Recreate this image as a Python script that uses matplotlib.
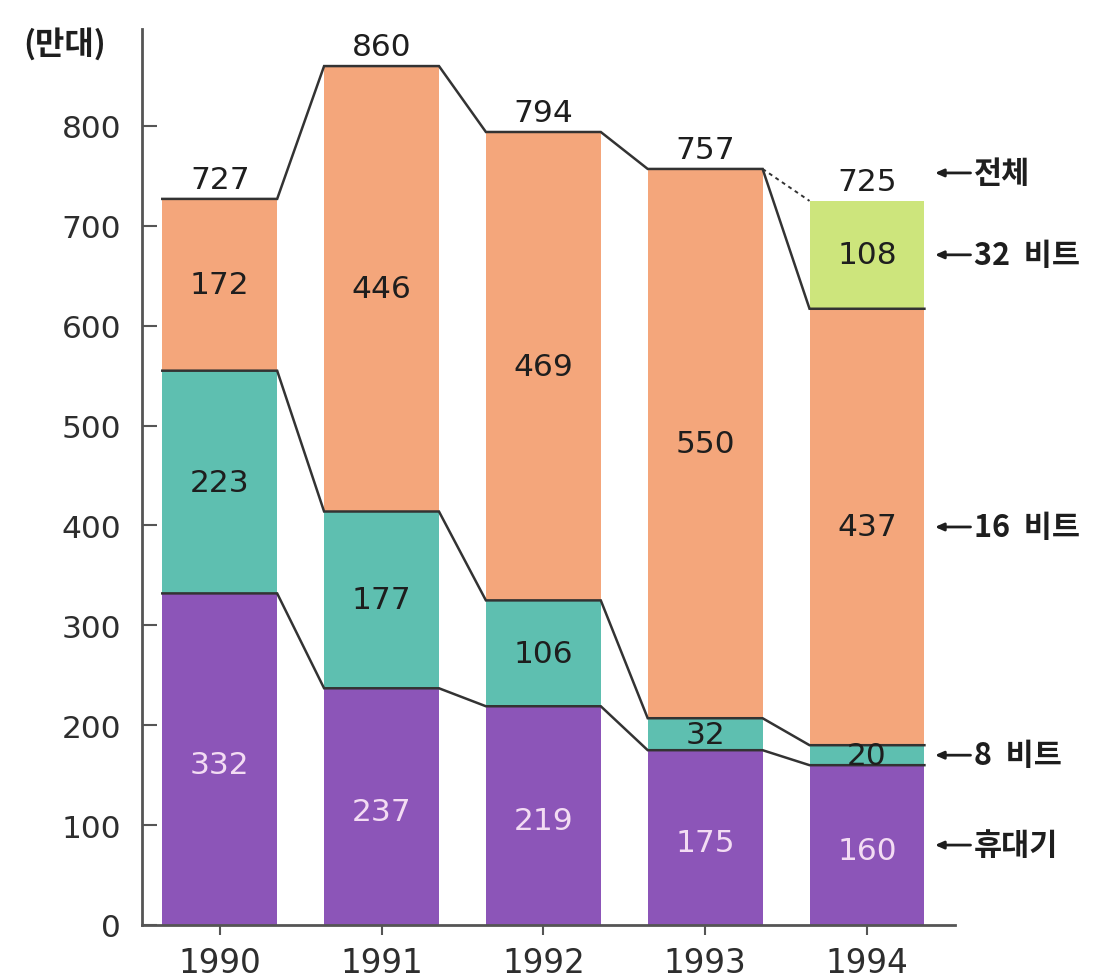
import matplotlib
matplotlib.use('Agg')
import matplotlib.pyplot as plt
import numpy as np

# data (단위: 만대)
years = ['1990', '1991', '1992', '1993', '1994']
portable = [332, 237, 219, 175, 160]
bit8 = [223, 177, 106, 32, 20]
bit16 = [172, 446, 469, 550, 437]
bit32 = [0, 0, 0, 0, 108]
totals = [727, 860, 794, 757, 725]
names = ['휴대기', '8  비트', '16  비트', '32  비트', '전체']
unit = '(만대)'

c_purple = '#8c55b8'
c_teal = '#5ebfb0'
c_orange = '#f4a67b'
c_lime = '#cde57c'
c_line = '#333333'
c_text = '#1e1e1e'

plt.rcParams['font.family'] = ['DejaVu Sans']

fig = plt.figure(figsize=(11.02, 9.78), dpi=100)
ax = fig.add_axes([0.1289, 0.0532, 0.738, 0.916])

x = np.arange(len(years))
w = 0.71
cum1 = np.array(portable)
cum2 = cum1 + np.array(bit8)
cum3 = cum2 + np.array(bit16)
cum4 = cum3 + np.array(bit32)

ax.bar(x, portable, w, color=c_purple, zorder=2)
ax.bar(x, bit8, w, bottom=cum1, color=c_teal, zorder=2)
ax.bar(x, bit16, w, bottom=cum2, color=c_orange, zorder=2)
ax.bar(x, bit32, w, bottom=cum3, color=c_lime, zorder=2)

# boundary lines across bar tops and between bars
for level in [cum1, cum2, cum3]:
    xs, ys = [], []
    for i in range(len(x)):
        xs += [x[i] - w / 2, x[i] + w / 2]
        ys += [level[i], level[i]]
    ax.plot(xs, ys, color=c_line, lw=1.8, zorder=3, solid_joinstyle='miter')
# dashed line to the 1994 total
ax.plot([x[3] + w / 2, x[4] - w / 2], [totals[3], totals[4]], color=c_line,
        lw=1.4, ls=(0, (2, 2)), zorder=3)

# segment labels
fs = 22.5
for i in range(len(x)):
    ax.text(x[i], cum1[i] / 2 - 5, str(portable[i]), ha='center', va='center',
            fontsize=fs, color='#f3dcf3', zorder=4)
    ax.text(x[i], cum1[i] + bit8[i] / 2, str(bit8[i]), ha='center', va='center',
            fontsize=fs, color=c_text, zorder=4)
    ax.text(x[i], cum2[i] + bit16[i] / 2, str(bit16[i]), ha='center', va='center',
            fontsize=fs, color=c_text, zorder=4)
    if bit32[i] > 0:
        ax.text(x[i], cum3[i] + bit32[i] / 2, str(bit32[i]), ha='center', va='center',
                fontsize=fs, color=c_text, zorder=4)
    ax.text(x[i], totals[i] + 5, str(totals[i]), ha='center', va='bottom',
            fontsize=fs, color=c_text, zorder=4)

# right side labels with arrows
last = len(x) - 1
right_y = [cum1[last] / 2, cum1[last] + bit8[last] / 2, cum2[last] + bit16[last] / 2,
           cum3[last] + bit32[last] / 2, totals[last] + 28]
for name, yy in zip(names, right_y):
    ax.annotate('', xy=(4.42, yy), xytext=(4.64, yy),
                arrowprops=dict(arrowstyle='-|>,head_length=0.5,head_width=0.22',
                                color=c_text, lw=2, shrinkA=0, shrinkB=0),
                annotation_clip=False)
    ax.text(4.66, yy, name, ha='left', va='center', fontsize=22, fontweight='bold',
            family=['Noto Sans CJK KR', 'DejaVu Sans'], color=c_text, clip_on=False)

fig.text(0.059, 0.955, unit, ha='center', va='center', fontsize=23, fontweight='bold',
         family=['Noto Sans CJK KR', 'DejaVu Sans'], color=c_text)

ax.set_xlim(-0.48, 4.546)
ax.set_ylim(0, 897)
ax.set_xticks(x)
ax.set_xticklabels(years)
ax.set_yticks(range(0, 900, 100))
for s in ['top', 'right']:
    ax.spines[s].set_visible(False)
for s in ['left', 'bottom']:
    ax.spines[s].set_color('#555555')
    ax.spines[s].set_linewidth(2)
ax.tick_params(axis='y', direction='in', length=11, width=1.5, color='#555555',
               pad=15, labelsize=22.5, labelcolor='#2e2e2e')
ax.tick_params(axis='x', direction='out', length=7, width=1.5, color='#555555',
               pad=8, labelsize=23.5, labelcolor='#2e2e2e')

fig.savefig('out.png', dpi=100)
